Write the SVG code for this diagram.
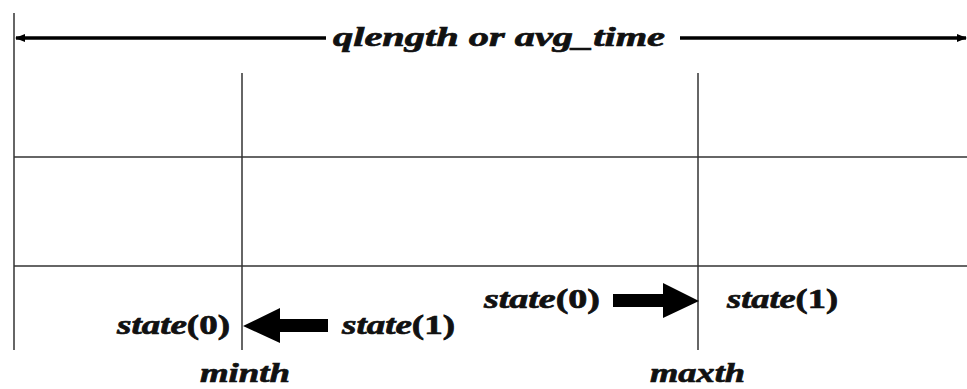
<svg xmlns="http://www.w3.org/2000/svg" width="967" height="389" viewBox="0 0 967 389">
<style>
.t{font-family:"Liberation Serif","Times New Roman",serif;font-weight:bold;font-style:italic;font-size:28px;fill:#111;stroke:#111;stroke-width:0.7}
.u{font-style:normal}
.thin{stroke:#333;stroke-width:1.5;fill:none}
.thick{stroke:#000;stroke-width:3.5;fill:none}
</style>
<defs>
<marker id="ah" markerWidth="10" markerHeight="8" refX="9" refY="4" orient="auto-start-reverse" markerUnits="userSpaceOnUse">
<path d="M0,0 L10,4 L0,8 z" fill="#000"/>
</marker>
</defs>
<rect width="967" height="389" fill="#fff"/>
<g id="connectors">
<line class="thin" x1="14" y1="13" x2="14" y2="350"/>
<line class="thin" x1="242" y1="73" x2="242" y2="350"/>
<line class="thin" x1="698" y1="73" x2="698" y2="350"/>
<line class="thin" x1="14" y1="157" x2="967" y2="157"/>
<line class="thin" x1="14" y1="266" x2="967" y2="266"/>
<line class="thick" x1="326" y1="38" x2="16" y2="38" marker-end="url(#ah)"/>
<line class="thick" x1="680" y1="38" x2="966" y2="38" marker-end="url(#ah)"/>
<path id="arrowLeft" d="M328,319 L280,319 L280,308 L243,326 L280,343 L280,332 L328,332 z" fill="#000"/>
<path id="arrowRight" d="M613,294 L663,294 L663,283 L699,301 L663,318 L663,307 L613,307 z" fill="#000"/>
</g>
<g id="title"><text class="t" x="333" y="46" textLength="332" lengthAdjust="spacingAndGlyphs">qlength  or avg_time</text></g>
<g id="minth"><text class="t" x="200" y="382" textLength="90" lengthAdjust="spacingAndGlyphs">minth</text></g>
<g id="maxth"><text class="t" x="650" y="382" textLength="95" lengthAdjust="spacingAndGlyphs">maxth</text></g>
<g id="left-state0"><text class="t" x="117" y="334" textLength="113" lengthAdjust="spacingAndGlyphs">state<tspan class="u">(0)</tspan></text></g>
<g id="left-state1"><text class="t" x="342" y="334" textLength="113" lengthAdjust="spacingAndGlyphs">state<tspan class="u">(1)</tspan></text></g>
<g id="right-state0"><text class="t" x="484" y="308" textLength="116" lengthAdjust="spacingAndGlyphs">state<tspan class="u">(0)</tspan></text></g>
<g id="right-state1"><text class="t" x="727" y="308" textLength="111" lengthAdjust="spacingAndGlyphs">state<tspan class="u">(1)</tspan></text></g>
</svg>
